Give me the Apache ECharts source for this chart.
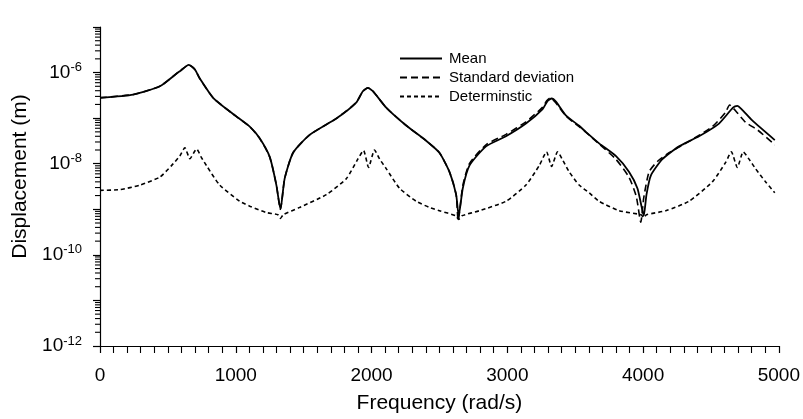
<!DOCTYPE html>
<html>
<head>
<meta charset="utf-8">
<title>Displacement response</title>
<script src="https://cdn.jsdelivr.net/npm/echarts@6/dist/echarts.min.js"></script>
<style>
  html, body { margin: 0; padding: 0; background: #fff; }
  #chart { width: 803px; height: 419px; }
</style>
</head>
<body>
<div id="chart"></div>
<script>
// Frequency (rad/s) and displacement (m) samples for each curve
const meanFreq = [0, 245, 441, 564, 588, 654, 699, 735, 833, 980, 1103, 1176, 1250, 1299, 1329, 1360, 1422, 1544, 1740, 1887, 1936, 1973, 2010, 2108, 2255, 2402, 2500, 2574, 2623, 2642, 2672, 2721, 2843, 2990, 3137, 3260, 3297, 3326, 3358, 3431, 3529, 3578, 3676, 3799, 3897, 3958, 3990, 4005, 4025, 4057, 4142, 4265, 4412, 4559, 4662, 4694, 4725, 4804, 4970];
const meanDisp = [2.8e-7, 3.3e-7, 5.0e-7, 9.5e-7, 1.07e-6, 1.48e-6, 1.17e-6, 7.4e-7, 2.8e-7, 1.23e-7, 6.5e-8, 3.6e-8, 1.41e-8, 3.4e-9, 1.0e-9, 4.7e-9, 1.74e-8, 4.3e-8, 9.8e-8, 2.2e-7, 3.9e-7, 4.6e-7, 3.9e-7, 1.7e-7, 6.9e-8, 3.2e-8, 1.74e-8, 6.6e-9, 2.1e-9, 7.2e-10, 2.9e-9, 9.1e-9, 2.4e-8, 4.0e-8, 7.6e-8, 1.58e-7, 2.4e-7, 2.7e-7, 2.3e-7, 1.15e-7, 6.8e-8, 5.0e-8, 2.8e-8, 1.48e-8, 6.6e-9, 2.9e-9, 1.1e-9, 7.2e-10, 2.1e-9, 5.5e-9, 1.26e-8, 2.4e-8, 4.0e-8, 7.6e-8, 1.7e-7, 1.86e-7, 1.58e-7, 8.9e-8, 3.3e-8];

const stdFreq = [0, 245, 441, 564, 588, 654, 699, 735, 833, 980, 1103, 1176, 1250, 1299, 1329, 1360, 1422, 1544, 1740, 1887, 1936, 1973, 2010, 2108, 2255, 2402, 2500, 2574, 2623, 2638, 2672, 2721, 2843, 2990, 3137, 3260, 3290, 3315, 3350, 3431, 3529, 3578, 3676, 3799, 3897, 3950, 3983, 4005, 4044, 4105, 4191, 4338, 4510, 4608, 4637, 4681, 4755, 4843, 4970];
const stdDisp = [2.8e-7, 3.3e-7, 5.0e-7, 9.5e-7, 1.07e-6, 1.48e-6, 1.17e-6, 7.4e-7, 2.8e-7, 1.23e-7, 6.5e-8, 3.6e-8, 1.41e-8, 3.4e-9, 1.0e-9, 4.7e-9, 1.74e-8, 4.3e-8, 9.8e-8, 2.2e-7, 3.9e-7, 4.6e-7, 3.9e-7, 1.7e-7, 6.9e-8, 3.2e-8, 1.74e-8, 6.6e-9, 2.1e-9, 5.6e-10, 3.3e-9, 1.0e-8, 2.6e-8, 4.4e-8, 8.3e-8, 1.74e-7, 2.4e-7, 2.75e-7, 2.3e-7, 1.12e-7, 6.5e-8, 4.9e-8, 2.7e-8, 1.26e-8, 5.0e-9, 1.9e-9, 5.2e-10, 1.8e-9, 6.6e-9, 1.12e-8, 1.74e-8, 3.1e-8, 6.5e-8, 1.35e-7, 1.95e-7, 1.45e-7, 8.1e-8, 5.5e-8, 2.6e-8];

const detFreq = [0, 147, 294, 441, 527, 588, 625, 662, 711, 748, 784, 882, 1029, 1103, 1225, 1310, 1329, 1350, 1471, 1667, 1814, 1899, 1941, 1978, 2022, 2060, 2108, 2206, 2329, 2426, 2500, 2620, 2642, 2665, 2794, 2990, 3137, 3235, 3289, 3326, 3370, 3410, 3456, 3529, 3603, 3676, 3824, 3985, 4005, 4025, 4167, 4338, 4510, 4608, 4650, 4694, 4738, 4780, 4828, 4902, 4970];
const detDisp = [2.6e-9, 2.7e-9, 3.4e-9, 5.1e-9, 9.1e-9, 1.48e-8, 2.24e-8, 1.29e-8, 2.1e-8, 1.35e-8, 9.1e-9, 3.4e-9, 1.5e-9, 1.17e-9, 8.5e-10, 7.6e-10, 6.3e-10, 7.6e-10, 1.1e-9, 2.1e-9, 4.7e-9, 1.26e-8, 1.95e-8, 8.3e-9, 2.0e-8, 1.26e-8, 7.8e-9, 2.9e-9, 1.5e-9, 1.1e-9, 9.3e-10, 7.2e-10, 6.0e-10, 7.2e-10, 9.3e-10, 1.5e-9, 3.4e-9, 9.1e-9, 1.82e-8, 8.7e-9, 1.82e-8, 1.17e-8, 6.6e-9, 3.4e-9, 2.3e-9, 1.5e-9, 9.3e-10, 7.6e-10, 6.6e-10, 7.6e-10, 9.3e-10, 1.5e-9, 4.0e-9, 1.07e-8, 1.82e-8, 8.3e-9, 1.82e-8, 1.26e-8, 7.8e-9, 4.0e-9, 2.3e-9];

const seriesNames = ['Mean', 'Standard deviation', 'Determinstic'];
const xTicks = { min: 0, max: 5000, step: 1000 };
const yDecades = { min: -12, max: -5 };

const FONT = '"Liberation Sans", Arial, Helvetica, sans-serif';

function pairs(xs, ys) {
  return xs.map((x, i) => [x, ys[i]]);
}

// Log-axis minor tick values (2..9 within each decade)
const minorTickValues = [];
for (let e = yDecades.min; e < yDecades.max; e++) {
  for (let k = 2; k <= 9; k++) minorTickValues.push([0, k * Math.pow(10, e)]);
}

const chart = echarts.init(document.getElementById('chart'), null, { renderer: 'canvas' });

chart.setOption({
  animation: false,
  backgroundColor: '#fff',
  textStyle: { fontFamily: FONT, color: '#000' },
  grid: { left: 100, right: 23, top: 27, bottom: 62, containLabel: false },
  legend: {
    data: seriesNames,
    orient: 'vertical',
    left: 394,
    top: 46,
    itemWidth: 42,
    itemHeight: 12,
    itemGap: 4,
    itemStyle: { opacity: 0 },
    textStyle: { fontFamily: FONT, fontSize: 15, color: '#000', padding: [0, 0, 0, 2] }
  },
  xAxis: {
    type: 'value',
    min: xTicks.min,
    max: xTicks.max,
    interval: xTicks.step,
    name: 'Frequency (rad/s)',
    nameLocation: 'middle',
    nameGap: 47,
    nameTextStyle: { fontFamily: FONT, fontSize: 21, color: '#000' },
    axisLine: { show: true, lineStyle: { color: '#000', width: 1.2 } },
    axisTick: { show: true, length: 7, lineStyle: { color: '#000', width: 1.2 } },
    minorTick: { show: true, splitNumber: 10, length: 7, lineStyle: { color: '#000', width: 1.1 } },
    splitLine: { show: false },
    minorSplitLine: { show: false },
    axisLabel: {
      fontFamily: FONT, fontSize: 19, color: '#000', margin: 20,
      formatter: function (v) { return String(v); }
    }
  },
  yAxis: {
    type: 'log',
    logBase: 10,
    min: Math.pow(10, yDecades.min),
    max: Math.pow(10, yDecades.max),
    name: 'Displacement (m)',
    nameLocation: 'middle',
    nameGap: 67,
    nameTextStyle: { fontFamily: FONT, fontSize: 21, color: '#000', padding: [0, 0, 0, 20] },
    axisLine: { show: true, lineStyle: { color: '#000', width: 1.2 } },
    axisTick: { show: true, length: 7, lineStyle: { color: '#000', width: 1.2 } },
    splitLine: { show: false },
    axisLabel: {
      margin: 18,
      formatter: function (v) {
        const e = Math.round(Math.log10(v));
        if (e % 2 !== 0) return '';
        return '{b|10}{s|' + e + '}';
      },
      rich: {
        b: { fontFamily: FONT, fontSize: 19, color: '#000' },
        s: { fontFamily: FONT, fontSize: 13, color: '#000', verticalAlign: 'top', padding: [0, 0, 10, 0] }
      }
    }
  },
  series: [
    {
      name: 'Determinstic',
      type: 'line',
      data: pairs(detFreq, detDisp),
      showSymbol: false,
      symbol: 'none',
      smooth: 0.2,
      lineStyle: { color: '#000', width: 1.6, type: [4, 3] },
      itemStyle: { color: '#000' },
      z: 2
    },
    {
      name: 'Mean',
      type: 'line',
      data: pairs(meanFreq, meanDisp),
      showSymbol: false,
      symbol: 'none',
      smooth: 0.2,
      lineStyle: { color: '#000', width: 1.8, type: 'solid' },
      itemStyle: { color: '#000' },
      z: 3
    },
    {
      name: 'Standard deviation',
      type: 'line',
      data: pairs(stdFreq, stdDisp),
      showSymbol: false,
      symbol: 'none',
      smooth: 0.2,
      lineStyle: { color: '#000', width: 1.6, type: [7, 4] },
      itemStyle: { color: '#000' },
      z: 4
    },
    {
      // minor ticks of the logarithmic displacement axis
      type: 'custom',
      silent: true,
      clip: false,
      data: minorTickValues,
      renderItem: function (params, api) {
        const p = api.coord([0, api.value(1)]);
        return {
          type: 'line',
          shape: { x1: p[0] - 5, y1: p[1], x2: p[0], y2: p[1] },
          style: { stroke: '#000', lineWidth: 1.1 }
        };
      },
      z: 1
    }
  ]
});
</script>
</body>
</html>
